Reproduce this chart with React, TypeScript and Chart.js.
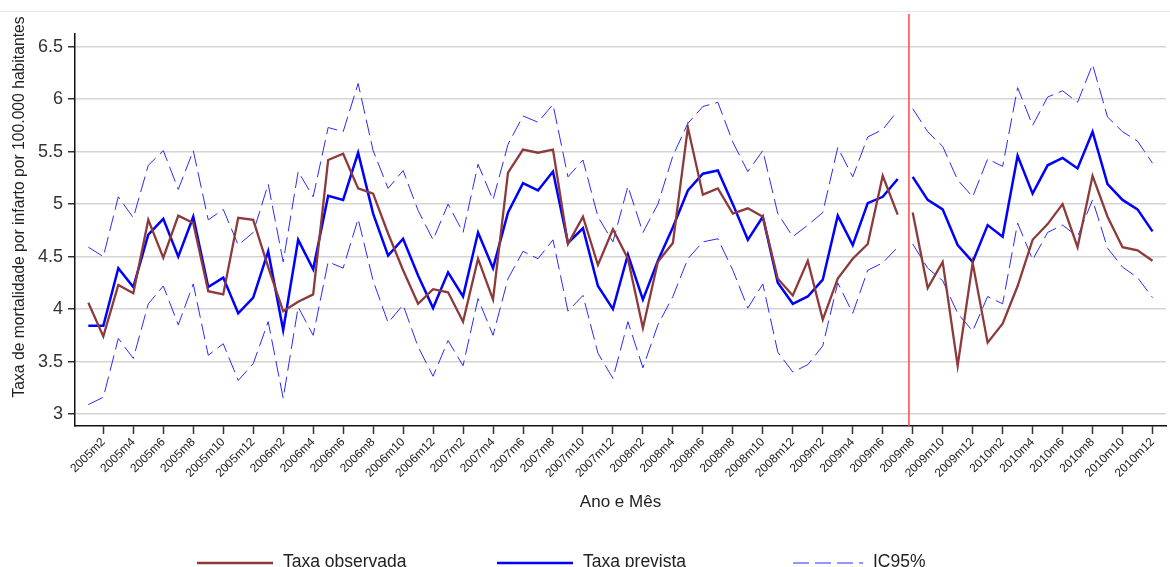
import React, { useEffect, useRef } from 'react';
import { Chart, registerables } from 'chart.js';

Chart.register(...registerables);

const months = [
  '2005m1', '2005m2', '2005m3', '2005m4', '2005m5', '2005m6', '2005m7', '2005m8', '2005m9', '2005m10', '2005m11', '2005m12',
  '2006m1', '2006m2', '2006m3', '2006m4', '2006m5', '2006m6', '2006m7', '2006m8', '2006m9', '2006m10', '2006m11', '2006m12',
  '2007m1', '2007m2', '2007m3', '2007m4', '2007m5', '2007m6', '2007m7', '2007m8', '2007m9', '2007m10', '2007m11', '2007m12',
  '2008m1', '2008m2', '2008m3', '2008m4', '2008m5', '2008m6', '2008m7', '2008m8', '2008m9', '2008m10', '2008m11', '2008m12',
  '2009m1', '2009m2', '2009m3', '2009m4', '2009m5', '2009m6', '2009m7', '2009m8', '2009m9', '2009m10', '2009m11', '2009m12',
  '2010m1', '2010m2', '2010m3', '2010m4', '2010m5', '2010m6', '2010m7', '2010m8', '2010m9', '2010m10', '2010m11', '2010m12',
];

const tickLabels = [
  '2005m2', '2005m4', '2005m6', '2005m8', '2005m10', '2005m12',
  '2006m2', '2006m4', '2006m6', '2006m8', '2006m10', '2006m12',
  '2007m2', '2007m4', '2007m6', '2007m8', '2007m10', '2007m12',
  '2008m2', '2008m4', '2008m6', '2008m8', '2008m10', '2008m12',
  '2009m2', '2009m4', '2009m6', '2009m8', '2009m10', '2009m12',
  '2010m2', '2010m4', '2010m6', '2010m8', '2010m10', '2010m12',
];

const yTicks = [3, 3.5, 4, 4.5, 5, 5.5, 6, 6.5];

const observed = [
  4.06, 3.74, 4.23, 4.15, 4.85, 4.49, 4.89, 4.82, 4.17, 4.14, 4.87, 4.85,
  4.40, 3.98, 4.07, 4.14, 5.42, 5.48, 5.15, 5.10, 4.72, 4.37, 4.05, 4.19,
  4.16, 3.88, 4.48, 4.09, 5.30, 5.52, 5.49, 5.52, 4.62, 4.88, 4.42, 4.76,
  4.48, 3.82, 4.45, 4.63, 5.73, 5.09, 5.15, 4.91, 4.96, 4.88, 4.29, 4.13,
  4.46, 3.90, 4.29, 4.48, 4.62, 5.27, 4.90, 4.92, 4.20, 4.45, 3.46, 4.44,
  3.68, 3.86, 4.22, 4.66, 4.81, 5.00, 4.59, 5.27, 4.88, 4.59, 4.56, 4.46,
];

const predicted = [
  3.84, 3.84, 4.39, 4.21, 4.71, 4.86, 4.50, 4.88, 4.21, 4.30, 3.96, 4.11,
  4.55, 3.80, 4.66, 4.38, 5.08, 5.04, 5.49, 4.91, 4.51, 4.67, 4.32, 4.01,
  4.35, 4.12, 4.73, 4.39, 4.92, 5.20, 5.13, 5.31, 4.63, 4.77, 4.22, 4.00,
  4.52, 4.09, 4.46, 4.78, 5.13, 5.29, 5.32, 5.00, 4.66, 4.88, 4.25, 4.05,
  4.12, 4.28, 4.89, 4.61, 5.01, 5.07, 5.24, 5.26, 5.04, 4.95, 4.61, 4.45,
  4.80, 4.69, 5.46, 5.10, 5.37, 5.44, 5.34, 5.69, 5.19, 5.04, 4.95, 4.74,
];

const ciUpper = [
  4.59, 4.50, 5.07, 4.87, 5.37, 5.51, 5.14, 5.51, 4.85, 4.95, 4.61, 4.73,
  5.19, 4.45, 5.31, 5.07, 5.73, 5.69, 6.15, 5.51, 5.15, 5.32, 4.94, 4.66,
  5.00, 4.73, 5.38, 5.04, 5.57, 5.84, 5.78, 5.95, 5.26, 5.42, 4.88, 4.64,
  5.17, 4.73, 5.00, 5.46, 5.77, 5.93, 5.97, 5.59, 5.31, 5.51, 4.91, 4.69,
  4.80, 4.92, 5.54, 5.26, 5.64, 5.71, 5.89, 5.91, 5.69, 5.55, 5.23, 5.07,
  5.43, 5.36, 6.11, 5.75, 6.02, 6.08, 5.97, 6.33, 5.83, 5.69, 5.60, 5.39,
];

const ciLower = [
  3.09, 3.16, 3.72, 3.53, 4.05, 4.22, 3.85, 4.24, 3.56, 3.67, 3.32, 3.48,
  3.88, 3.15, 4.02, 3.75, 4.45, 4.39, 4.86, 4.27, 3.87, 4.04, 3.64, 3.36,
  3.70, 3.46, 4.10, 3.75, 4.29, 4.55, 4.48, 4.66, 3.98, 4.13, 3.58, 3.34,
  3.88, 3.44, 3.85, 4.12, 4.48, 4.64, 4.67, 4.37, 4.01, 4.24, 3.59, 3.40,
  3.47, 3.65, 4.25, 3.96, 4.37, 4.44, 4.59, 4.62, 4.39, 4.27, 3.96, 3.79,
  4.12, 4.05, 4.82, 4.47, 4.73, 4.80, 4.69, 5.04, 4.58, 4.40, 4.30, 4.11,
];

// index of 2009m7, last month before the break
const lastPreIndex = 54;
// position of the vertical intervention line (in month-index units)
const interventionAt = 54.75;

const xMin = -0.89;
const xMax = 71.9;
const yMin = 2.886;
const yMax = 6.621;

const FONT = "'Liberation Sans', Arial, Helvetica, sans-serif";
const yTitle = 'Taxa de mortalidade por infarto por 100.000 habitantes';
const xTitle = 'Ano e Mês';

const toPoints = (arr: number[]) => arr.map((v, i) => ({ x: i, y: v }));

const gapSegment = {
  borderColor: (ctx: any) => (ctx.p0DataIndex === lastPreIndex ? 'rgba(0,0,0,0)' : undefined),
};

const extrasPlugin = {
  id: 'extras',
  afterDatasetsDraw(chart: any) {
    const { ctx, chartArea, scales } = chart;
    const x = scales.x.getPixelForValue(interventionAt);
    ctx.save();
    ctx.strokeStyle = '#ff4545';
    ctx.lineWidth = 1.5;
    ctx.beginPath();
    ctx.moveTo(x, chartArea.top - 20);
    ctx.lineTo(x, chartArea.bottom);
    ctx.stroke();
    ctx.restore();
  },
  afterDraw(chart: any) {
    const { ctx } = chart;
    ctx.save();
    // faint top rule
    ctx.fillStyle = '#e4eaed';
    ctx.fillRect(0, 11, chart.width, 1);

    // y axis title
    ctx.save();
    ctx.translate(20, 207);
    ctx.rotate(-Math.PI / 2);
    ctx.font = `15.7px ${FONT}`;
    ctx.fillStyle = '#222';
    ctx.textAlign = 'center';
    ctx.textBaseline = 'middle';
    ctx.fillText(yTitle, 0, 0);
    ctx.restore();

    // legend
    const items = [
      { ds: chart.data.datasets[0], x: 197, len: 76 },
      { ds: chart.data.datasets[1], x: 497, len: 76 },
      { ds: chart.data.datasets[2], x: 793, len: 70 },
    ];
    const ly = 563;
    items.forEach((it) => {
      ctx.save();
      ctx.strokeStyle = it.ds.borderColor;
      ctx.lineWidth = it.ds.borderWidth;
      ctx.setLineDash(it.ds.borderDash || []);
      ctx.beginPath();
      ctx.moveTo(it.x, ly);
      ctx.lineTo(it.x + it.len, ly);
      ctx.stroke();
      ctx.restore();
      ctx.font = `17.5px ${FONT}`;
      ctx.fillStyle = '#222';
      ctx.textAlign = 'left';
      ctx.textBaseline = 'alphabetic';
      ctx.fillText(it.ds.label, it.x + it.len + 10, 567);
    });
    ctx.restore();
  },
};

export default function App() {
  const ref = useRef<HTMLCanvasElement | null>(null);

  useEffect(() => {
    if (!ref.current) return;
    const chart = new Chart(ref.current, {
      type: 'line',
      data: {
        datasets: [
          {
            label: 'Taxa observada',
            data: toPoints(observed),
            borderColor: '#8c3a3a',
            borderWidth: 2.3,
            pointRadius: 0,
            tension: 0,
            segment: gapSegment,
            order: 1,
          },
          {
            label: 'Taxa prevista',
            data: toPoints(predicted),
            borderColor: '#0000ff',
            borderWidth: 2.5,
            pointRadius: 0,
            tension: 0,
            segment: gapSegment,
            order: 2,
          },
          {
            label: 'IC95%',
            data: toPoints(ciUpper),
            borderColor: '#2a2aff',
            borderWidth: 1,
            borderDash: [16, 6],
            pointRadius: 0,
            tension: 0,
            segment: gapSegment,
            order: 3,
          },
          {
            label: 'IC95% inferior',
            data: toPoints(ciLower),
            borderColor: '#2a2aff',
            borderWidth: 1,
            borderDash: [16, 6],
            pointRadius: 0,
            tension: 0,
            segment: gapSegment,
            order: 4,
          },
        ],
      },
      options: {
        responsive: false,
        animation: false,
        devicePixelRatio: 1,
        layout: { padding: { top: 34, right: 4, left: 0, bottom: 0 } },
        plugins: {
          legend: { display: false },
          tooltip: { enabled: false },
          title: { display: false },
        },
        scales: {
          x: {
            type: 'linear',
            min: xMin,
            max: xMax,
            afterBuildTicks: (scale: any) => {
              scale.ticks = tickLabels.map((l) => ({ value: months.indexOf(l) }));
            },
            afterFit: (scale: any) => {
              scale.height = 141;
            },
            ticks: {
              autoSkip: false,
              maxRotation: 45,
              minRotation: 45,
              padding: 1,
              color: '#222',
              font: { family: FONT, size: 12 },
              callback: (v: any) => months[Math.round(Number(v))] ?? '',
            },
            grid: {
              display: true,
              drawOnChartArea: false,
              drawTicks: true,
              tickLength: 8,
              tickColor: '#333',
              tickWidth: 1.5,
            },
            border: { display: true, color: '#111', width: 1.5 },
            title: {
              display: true,
              text: xTitle,
              color: '#222',
              font: { family: FONT, size: 17 },
              padding: { top: 0, bottom: 54 },
            },
          },
          y: {
            type: 'linear',
            min: yMin,
            max: yMax,
            afterBuildTicks: (scale: any) => {
              scale.ticks = yTicks.map((v) => ({ value: v }));
            },
            afterFit: (scale: any) => {
              scale.width = 75;
            },
            ticks: {
              padding: 5,
              color: '#333',
              font: { family: FONT, size: 18 },
              callback: (v: any) => String(v),
            },
            grid: {
              color: '#d4d4d4',
              lineWidth: 1.5,
              drawTicks: true,
              tickLength: 7,
              tickColor: '#333',
              tickWidth: 1.5,
            },
            border: { display: true, color: '#111', width: 1.5 },
          },
        },
      },
      plugins: [extrasPlugin],
    });
    return () => chart.destroy();
  }, []);

  return (
    <div style={{ position: 'fixed', left: 0, top: 0, width: 1170, height: 567, background: '#fff' }}>
      <canvas ref={ref} width={1170} height={567} style={{ width: 1170, height: 567, display: 'block' }} />
    </div>
  );
}
